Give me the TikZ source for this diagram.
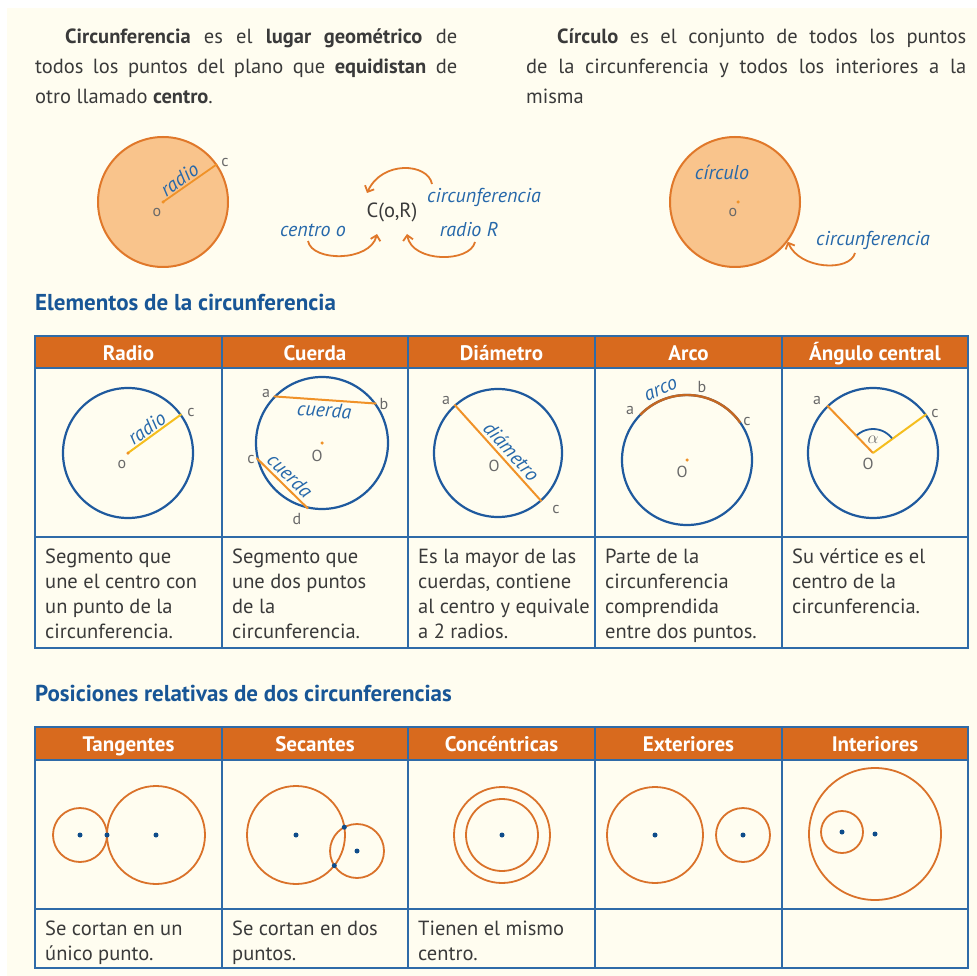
\documentclass[tikz,border=0pt]{standalone}
\usepackage{fontspec}
\setmainfont{PT Sans}
\usepackage{tikz}
\usetikzlibrary{calc}
\usetikzlibrary{arrows.meta}

\definecolor{cream}{RGB}{255,253,240}
\definecolor{hdrorange}{RGB}{216,106,30}
\definecolor{gridblue}{RGB}{47,107,168}
\definecolor{ringblue}{RGB}{31,90,158}
\definecolor{titleblue}{RGB}{24,86,150}
\definecolor{lblblue}{RGB}{38,104,170}
\definecolor{discfill}{RGB}{249,196,140}
\definecolor{discedge}{RGB}{224,120,42}
\definecolor{segorange}{RGB}{240,146,40}
\definecolor{segyellow}{RGB}{245,190,30}
\definecolor{arcbrown}{RGB}{196,104,34}
\definecolor{posorange}{RGB}{218,114,42}
\definecolor{dotblue}{RGB}{14,76,138}
\definecolor{txtgray}{RGB}{58,58,58}
\definecolor{ptgray}{RGB}{105,105,105}

\tikzset{
  body/.style={font=\fontsize{20.5}{30}\selectfont, text=txtgray, inner sep=0pt, anchor=base west},
  title/.style={font=\fontsize{23}{26}\selectfont\bfseries, text=titleblue, inner sep=0pt, anchor=base west},
  hdr/.style={font=\fontsize{21}{24}\selectfont\bfseries, text=white, inner sep=0pt, anchor=base},
  desc/.style={font=\fontsize{20.5}{25}\selectfont, text=txtgray, inner sep=0pt, anchor=base west, align=left},
  lbl/.style={font=\fontsize{20}{22}\selectfont\itshape, text=lblblue, inner sep=1pt},
  letter/.style={font=\fontsize{16}{18}\selectfont, text=ptgray, inner sep=0pt},
  ring/.style={circle, draw=ringblue, line width=2.2pt, inner sep=0pt, minimum size=#1},
  oring/.style={circle, draw=posorange, line width=1.8pt, inner sep=0pt, minimum size=#1},
  disc/.style={circle, draw=discedge, fill=discfill, line width=2pt, inner sep=0pt, minimum size=130pt},
  cdot/.style={circle, fill=dotblue, inner sep=0pt, minimum size=5pt},
  odot/.style={circle, fill=segorange, inner sep=0pt, minimum size=3.5pt},
  seg/.style={line width=2pt, draw=segorange},
  yseg/.style={line width=2pt, draw=segyellow},
  arr/.style={draw=discedge, line width=1.8pt, -{Straight Barb[length=5pt,width=10pt]}},
  grid/.style={draw=gridblue, line width=2.2pt}
}

\begin{document}
\begin{tikzpicture}[x=1pt,y=1pt]
    \useasboundingbox (0,0) rectangle (977,-976);
    \fill[white] (0,0) rectangle (977,-976);
    \fill[cream] (7,-8) rectangle (977,-976);

    % definitions on top
    \node[body] (p1a) at (65,-44)  {\makebox[392pt][s]{\textbf{Circunferencia} es el \textbf{lugar geométrico} de}};
    \node[body] (p1b) at (35,-74)  {\makebox[422pt][s]{todos los puntos del plano que \textbf{equidistan} de}};
    \node[body] (p1c) at (35,-104) {otro llamado \textbf{centro}.};
    \node[body] (p2a) at (557,-44) {\makebox[409pt][s]{\textbf{Círculo} es el conjunto de todos los puntos}};
    \node[body] (p2b) at (526,-74) {\makebox[440pt][s]{de la circunferencia y todos los interiores a la}};
    \node[body] (p2c) at (526,-104) {misma};

    % circunferencia
    \node[disc] (disco) at (163,-202) {};
    \draw[line width=1.8pt, draw=segorange] (disco.center) -- node[lbl, sloped, above, pos=0.4] (tradio0) {radio} (disco.35);
    \node[odot] (odisco) at (disco.center) {};
    \node[letter] (cdisco) at (225,-163) {c};
    \node[letter] (ldisco) at (157,-213) {o};

    \node[font=\fontsize{20.5}{22}\selectfont, text=txtgray, inner sep=1pt] (cor) at (392,-212) {C(o,R)};
    \node[lbl] (lcirc) at (484,-197) {circunferencia};
    \node[lbl] (lcen)  at (313,-230) {centro o};
    \node[lbl] (lrad)  at (469,-230) {radio R};
    \coordinate (scirc) at (432,-184);
    \coordinate (scen)  at (308,-241);
    \coordinate (srad)  at (475,-242);
    \coordinate (ecor1) at (367,-193);
    \coordinate (ecor2) at (377,-234);
    \coordinate (ecor3) at (407,-234);
    \draw[arr] (scirc) .. controls +(-4,21) and +(15,33) .. (ecor1);
    \draw[arr] (scen) .. controls +(4,-21) and +(-7,-28) .. (ecor2);
    \draw[arr] (srad) .. controls +(-5,-21) and +(5,-29) .. (ecor3);

    % circulo
    \node[disc] (circulo) at (735,-202) {};
    \node[odot] (ocirculo) at (738,-202) {};
    \node[letter] (lcirculo) at (733,-213) {o};
    \node[lbl] (tcirculo) at (722,-172) {círculo};
    \node[lbl] (lcircr) at (873,-240) {circunferencia};
    \coordinate (scircr) at (855,-253);
    \draw[arr] (scircr) .. controls +(-5,-19) and +(12,-28) .. (circulo.-37);

    % Elementos de la circunferencia
    \node[title] (t1) at (35,-311) {Elementos de la circunferencia};
    \fill[hdrorange] (35,-336) rectangle (968,-368);
    \draw[grid] (35,-336) rectangle (968,-648);
    \draw[grid] (35,-368) -- (968,-368);
    \draw[grid] (35,-537) -- (968,-537);
    \draw[grid] (222,-336) -- (222,-648);
    \draw[grid] (408,-336) -- (408,-648);
    \draw[grid] (595,-336) -- (595,-648);
    \draw[grid] (782,-336) -- (782,-648);

    \node[hdr] (h11) at (128.5,-360) {Radio};
    \node[hdr] (h12) at (315,-360)   {Cuerda};
    \node[hdr] (h13) at (501.5,-360) {Diámetro};
    \node[hdr] (h14) at (688.5,-360) {Arco};
    \node[hdr] (h15) at (875,-360)   {Ángulo central};

    % radio
    \node[ring=130pt] (cradio) at (128,-453) {};
    \draw[yseg] (cradio.center) -- node[lbl, sloped, above, pos=0.45] (tradio) {radio} (cradio.36);
    \node[odot] (oradio) at (cradio.center) {};
    \node[letter] (lo1) at (122,-464) {o};
    \node[letter] (lc1) at (191,-412) {c};

    % cuerda
    \node[ring=132pt] (ccuerda) at (322,-443) {};
    \draw[seg] (ccuerda.136) -- node[lbl, sloped, below=1pt] (tcuerda1) {cuerda} (ccuerda.36);
    \draw[seg] (ccuerda.193) -- node[lbl, sloped, above=2pt] (tcuerda2) {cuerda} (ccuerda.258);
    \node[odot] (ocuerda) at (ccuerda.center) {};
    \node[letter] (lo2) at (317,-456) {O};
    \node[letter] (la2) at (266,-393) {a};
    \node[letter] (lb2) at (384,-404) {b};
    \node[letter] (lc2) at (251,-459) {c};
    \node[letter] (ld2) at (297,-519) {d};

    % diametro
    \node[ring=128pt] (cdiam) at (498,-453) {};
    \draw[seg] (cdiam.132) -- node[lbl, sloped, above=2pt, pos=0.56] (tdiam) {diámetro} (cdiam.312);
    \node[letter] (lo3) at (494,-466) {O};
    \node[letter] (la3) at (446,-400) {a};
    \node[letter] (lc3) at (556,-509) {c};

    % arco
    \node[ring=130pt] (carco) at (687,-460) {};
    \draw[line width=2.4pt, draw=arcbrown] ($(carco.center)+(136:65)$) arc[start angle=136, end angle=35, radius=65pt];
    \node[odot] (oarco) at (carco.center) {};
    \node[lbl, rotate=22] (tarco) at (661,-390) {arco};
    \node[letter] (lo4) at (682,-472) {O};
    \node[letter] (la4) at (630,-410) {a};
    \node[letter] (lb4) at (702,-387) {b};
    \node[letter] (lc4) at (747,-421) {c};

    % angulo central
    \node[ring=130pt] (cang) at (873,-453) {};
    \draw[seg] (cang.center) -- (cang.134);
    \draw[yseg] (cang.center) -- (cang.36);
    \draw[line width=1.8pt, draw=ringblue] ($(cang.center)+(38:24)$) arc[start angle=38, end angle=132, radius=24pt];
    \node[letter] (lal5) at (873,-440) {$\alpha$};
    \node[letter] (lo5) at (868,-464) {O};
    \node[letter] (la5) at (817,-400) {a};
    \node[letter] (lc5) at (935,-413) {c};

    \node[desc] (d11) at (45,-638)  {Segmento que\\une el centro con\\un punto de la\\circunferencia.};
    \node[desc] (d12) at (232,-638) {Segmento que\\une dos puntos\\de la\\circunferencia.};
    \node[desc] (d13) at (418,-638) {Es la mayor de las\\cuerdas, contiene\\al centro y equivale\\a 2 radios.};
    \node[desc] (d14) at (605,-638) {Parte de la\\circunferencia\\comprendida\\entre dos puntos.};
    \node[desc] (d15) at (792,-613) {Su vértice es el\\centro de la\\circunferencia.};

    % Posiciones relativas
    \node[title] (t2) at (35,-701) {Posiciones relativas de dos circunferencias};
    \fill[hdrorange] (35,-727) rectangle (968,-760);
    \draw[grid] (35,-727) rectangle (968,-968);
    \draw[grid] (35,-760) -- (968,-760);
    \draw[grid] (35,-909) -- (968,-909);
    \draw[grid] (222,-727) -- (222,-968);
    \draw[grid] (408,-727) -- (408,-968);
    \draw[grid] (595,-727) -- (595,-968);
    \draw[grid] (782,-727) -- (782,-968);

    \node[hdr] (h21) at (128.5,-751) {Tangentes};
    \node[hdr] (h22) at (315,-751)   {Secantes};
    \node[hdr] (h23) at (501.5,-751) {Concéntricas};
    \node[hdr] (h24) at (688.5,-751) {Exteriores};
    \node[hdr] (h25) at (875,-751)   {Interiores};

    % tangentes
    \node[oring=54pt] (tgA) at (80,-835) {};
    \node[oring=98pt] (tgB) at (156,-835) {};
    \node[cdot] (tgAo) at (tgA.center) {};
    \node[cdot] (tgBo) at (tgB.center) {};
    \node[cdot] (tgT)  at (107,-835) {};

    % secantes
    \node[oring=98pt] (scA) at (296,-835) {};
    \node[oring=54pt] (scB) at (357,-851) {};
    \node[cdot] (scAo) at (scA.center) {};
    \node[cdot] (scBo) at (scB.center) {};
    \node[cdot] (scP)  at (344.3,-827.2) {};
    \node[cdot] (scQ)  at (334.3,-865.6) {};

    % concentricas
    \node[oring=96pt] (ccA) at (502,-835) {};
    \node[oring=72pt] (ccB) at (502,-835) {};
    \node[cdot] (ccO) at (ccA.center) {};

    % exteriores
    \node[oring=96pt] (exA) at (655,-835) {};
    \node[oring=54pt] (exB) at (743,-835) {};
    \node[cdot] (exAo) at (exA.center) {};
    \node[cdot] (exBo) at (exB.center) {};

    % interiores
    \node[oring=132pt] (inA) at (875,-834) {};
    \node[oring=42pt] (inB) at (842,-832) {};
    \node[cdot] (inAo) at (inA.center) {};
    \node[cdot] (inBo) at (inB.center) {};

    \node[desc] (d21) at (45,-960)  {Se cortan en un\\único punto.};
    \node[desc] (d22) at (232,-960) {Se cortan en dos\\puntos.};
    \node[desc] (d23) at (418,-960) {Tienen el mismo\\centro.};
\end{tikzpicture}
\end{document}
